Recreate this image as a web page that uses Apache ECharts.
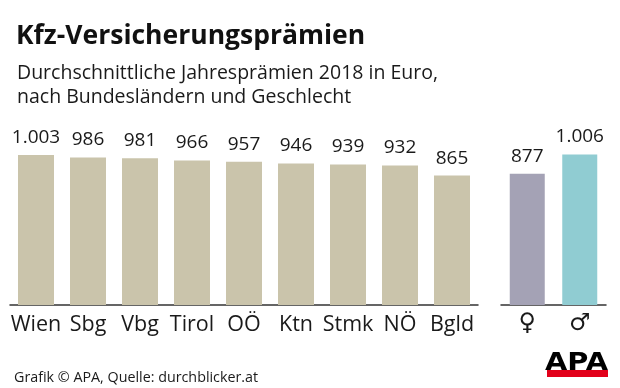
<!DOCTYPE html>
<html>
<head>
<meta charset="utf-8">
<script src="https://cdn.jsdelivr.net/npm/echarts@6/dist/echarts.min.js"></script>
<style>
html,body{margin:0;padding:0;background:#fff;}
#c{width:620px;height:388px;}
</style>
</head>
<body>
<div id="c"></div>
<script>
// Data
const regions = ['Wien', 'Sbg', 'Vbg', 'Tirol', 'OÖ', 'Ktn', 'Stmk', 'NÖ', 'Bgld'];
const regionValues = [1003, 986, 981, 966, 957, 946, 939, 932, 865];
const genders = ['♀', '♂'];
const genderValues = [877, 1006];

const titleText = 'Kfz-Versicherungsprämien';
const subtitleText = 'Durchschnittliche Jahresprämien 2018 in Euro,\nnach Bundesländern und Geschlecht';
const sourceText = 'Grafik © APA, Quelle: durchblicker.at';

const FONT = '"Open Sans", "Noto Sans", sans-serif';
const fmt = v => {
  const s = String(Math.round(v));
  return s.replace(/\B(?=(\d{3})+(?!\d))/g, '.');
};

const chart = echarts.init(document.getElementById('c'), null, {renderer: 'canvas'});

const labelCommon = {
  show: true,
  position: 'top',
  distance: 8,
  color: '#1a1a1a',
  fontFamily: FONT,
  fontSize: 19,
  formatter: p => fmt(p.value)
};

chart.setOption({
  backgroundColor: '#ffffff',
  animation: false,
  title: [
    {text: titleText, left: 11, top: 18,
     textStyle: {fontFamily: FONT, fontWeight: 'bold', fontSize: 26.5, color: '#111', lineHeight: 26}},
    {text: subtitleText, left: 12, top: 56,
     textStyle: {fontFamily: FONT, fontWeight: 'normal', fontSize: 19.5, color: '#1a1a1a', lineHeight: 24}},
    {text: sourceText, left: 9, top: 365,
     textStyle: {fontFamily: FONT, fontWeight: 'normal', fontSize: 14.3, color: '#1a1a1a', lineHeight: 15}}
  ],
  grid: [
    {left: 10, top: 125.5, width: 468, height: 179.5},
    {left: 501, top: 125.5, width: 105, height: 179.5}
  ],
  xAxis: [
    {type: 'category', gridIndex: 0, data: regions,
     axisLine: {show: true, lineStyle: {color: '#333', width: 1.5}},
     axisTick: {show: false},
     axisLabel: {margin: 9, color: '#1a1a1a', fontFamily: FONT, fontSize: 21.5, interval: 0}},
    {type: 'category', gridIndex: 1, data: genders,
     axisLine: {show: true, lineStyle: {color: '#333', width: 1.5}},
     axisTick: {show: false},
     axisLabel: {margin: 7, color: '#1a1a1a', fontFamily: '"DejaVu Sans", sans-serif', fontSize: 24, interval: 0}}
  ],
  yAxis: [
    {type: 'value', gridIndex: 0, min: 0, max: 1200, show: false, splitLine: {show: false}},
    {type: 'value', gridIndex: 1, min: 0, max: 1200, show: false, splitLine: {show: false}}
  ],
  series: [
    {type: 'bar', xAxisIndex: 0, yAxisIndex: 0, data: regionValues, barWidth: 36,
     itemStyle: {color: '#cac4ab'}, label: labelCommon},
    {type: 'bar', xAxisIndex: 1, yAxisIndex: 1, barWidth: 35,
     data: genderValues.map((v, i) => ({value: v, itemStyle: {color: i === 0 ? '#a4a2b5' : '#90ccd2'}})),
     label: labelCommon}
  ],
  graphic: [
    {type: 'rect', left: 547, top: 370, shape: {width: 61, height: 7}, style: {fill: '#e2001a'}},
    {type: 'text', x: 545, y: 352, scaleX: 1.2,
     style: {text: 'APA', fill: '#000', font: '900 24px "DejaVu Sans", sans-serif', textVerticalAlign: 'top'}}
  ]
});
</script>
</body>
</html>
